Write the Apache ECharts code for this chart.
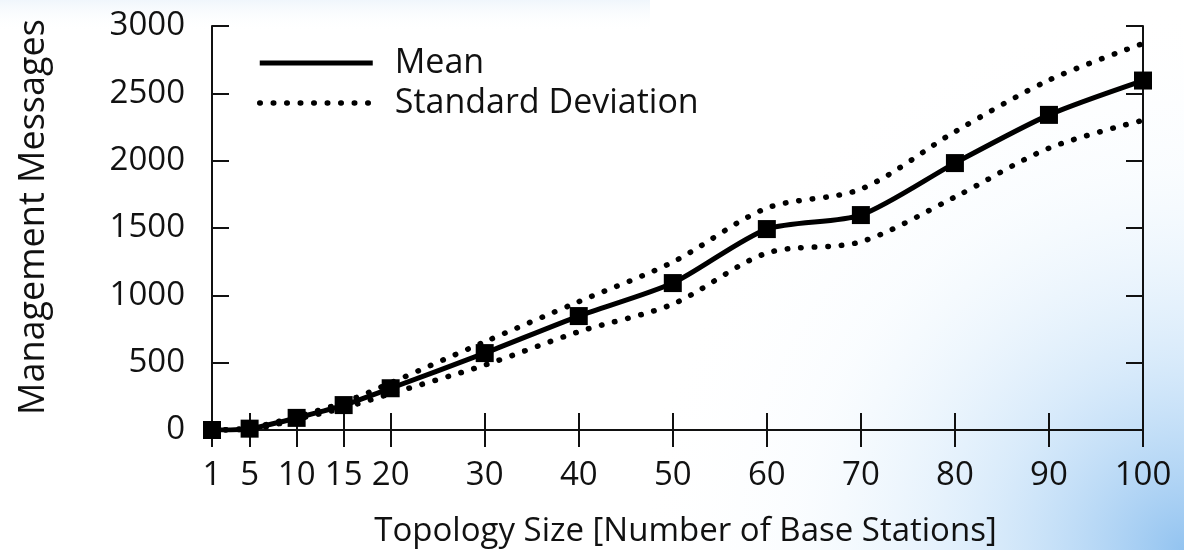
<!DOCTYPE html>
<html>
<head>
<meta charset="utf-8">
<script src="https://cdn.jsdelivr.net/npm/echarts@6/dist/echarts.min.js"></script>
<style>
html,body{margin:0;padding:0;background:#fff;}
#chart{width:1184px;height:550px;}
</style>
</head>
<body>
<div id="chart"></div>
<script>
// Data
var topologySizes = [1, 5, 10, 15, 20, 30, 40, 50, 60, 70, 80, 90, 100];
var meanMessages  = [0, 10, 90, 185, 310, 571, 846, 1091, 1492, 1596, 1982, 2340, 2595];
var upperStdDev   = [0, 15, 100, 205, 350, 655, 953, 1247, 1648, 1789, 2215, 2598, 2870];
var lowerStdDev   = [0, 5, 80, 165, 270, 482, 730, 935, 1314, 1398, 1730, 2093, 2300];
var xTickValues   = [1, 5, 10, 15, 20, 30, 40, 50, 60, 70, 80, 90, 100];
var seriesNames   = ['Mean', 'Standard Deviation'];
var xAxisTitle    = 'Topology Size [Number of Base Stations]';
var yAxisTitle    = 'Management Messages';

function pairs(xs, ys) { return xs.map(function (x, i) { return [x, ys[i]]; }); }

var FONT = 'Open Sans';
var chart = echarts.init(document.getElementById('chart'), null, {renderer: 'canvas'});

var axisLine = {show: true, lineStyle: {color: '#111', width: 2}};
var tickStyle = {color: '#111', width: 2};
var dotted = {color: '#000', width: 5.5, type: [0.5, 13], cap: 'round'};
var solid = {color: '#000', width: 5, type: 'solid'};

chart.setOption({
  backgroundColor: '#ffffff',
  animation: false,
  textStyle: {fontFamily: FONT},
  graphic: [
    {type: 'rect', z: -100, silent: true, shape: {x: 0, y: 0, width: 1184, height: 550},
     style: {fill: {type: 'radial', x: 1, y: 1, r: 1.0, colorStops: [
       {offset: 0, color: 'rgba(110,175,235,0.75)'},
       {offset: 0.35, color: 'rgba(170,210,245,0.45)'},
       {offset: 0.7, color: 'rgba(220,238,252,0.15)'},
       {offset: 1, color: 'rgba(255,255,255,0)'}]}}},
    {type: 'rect', z: -100, silent: true, shape: {x: 0, y: 0, width: 650, height: 32},
     style: {fill: {type: 'linear', x: 0, y: 0, x2: 0, y2: 1, colorStops: [
       {offset: 0, color: 'rgba(205,225,245,0.30)'},
       {offset: 1, color: 'rgba(255,255,255,0)'}]}}}
  ],
  grid: {left: 212, right: 41, top: 26, bottom: 120, containLabel: false, outerBoundsMode: 'none'},
  legend: {
    orient: 'vertical', left: 257, top: 46, padding: 0,
    itemWidth: 113, itemHeight: 20, itemGap: 6,
    itemStyle: {color: 'rgba(0,0,0,0)', borderColor: 'rgba(0,0,0,0)', borderWidth: 0},
    textStyle: {fontSize: 34, color: '#111', fontFamily: FONT, padding: [0, 0, 0, 17]},
    data: [
      {name: seriesNames[0], lineStyle: solid},
      {name: seriesNames[1], lineStyle: dotted}
    ]
  },
  xAxis: [
    {type: 'value', position: 'bottom', min: 1, max: 100,
     axisLine: axisLine,
     axisTick: {show: true, inside: true, length: 17, customValues: xTickValues, lineStyle: tickStyle},
     axisLabel: {show: true, customValues: xTickValues, fontSize: 33, margin: 29, color: '#111', fontFamily: FONT},
     splitLine: {show: false},
     name: xAxisTitle, nameLocation: 'middle', nameGap: 85,
     nameTextStyle: {fontSize: 33, color: '#111', fontFamily: FONT, padding: [0, 0, 0, 16]}},
    {type: 'value', position: 'top', min: 1, max: 100,
     axisLine: axisLine,
     axisTick: {show: true, inside: true, length: 17, customValues: xTickValues, lineStyle: tickStyle},
     axisLabel: {show: false, customValues: xTickValues},
     splitLine: {show: false}}
  ],
  yAxis: [
    {type: 'value', position: 'left', min: 0, max: 3000, interval: 500,
     axisLine: axisLine,
     axisTick: {show: true, inside: true, length: 17, lineStyle: tickStyle},
     axisLabel: {show: true, fontSize: 33, margin: 27, color: '#111', fontFamily: FONT,
                 padding: [6, 0, 0, 0],
                 formatter: function (v) { return String(v); }},
     splitLine: {show: false},
     name: yAxisTitle, nameLocation: 'middle', nameGap: 160,
     nameTextStyle: {fontSize: 36, color: '#111', fontFamily: FONT, padding: [0, 0, 0, 22]}},
    {type: 'value', position: 'right', min: 0, max: 3000, interval: 500,
     axisLine: axisLine,
     axisTick: {show: true, inside: true, length: 17, lineStyle: tickStyle},
     axisLabel: {show: false},
     splitLine: {show: false}}
  ],
  series: [
    {name: seriesNames[1], type: 'line', xAxisIndex: 0, yAxisIndex: 0,
     data: pairs(topologySizes, upperStdDev), smooth: 0.3, symbol: 'none',
     lineStyle: dotted, z: 2},
    {name: seriesNames[1], type: 'line', xAxisIndex: 0, yAxisIndex: 0,
     data: pairs(topologySizes, lowerStdDev), smooth: 0.3, symbol: 'none',
     lineStyle: dotted, z: 2},
    {name: seriesNames[0], type: 'line', xAxisIndex: 0, yAxisIndex: 0,
     data: pairs(topologySizes, meanMessages), smooth: 0.25,
     symbol: 'rect', symbolSize: 18,
     itemStyle: {color: '#000'},
     lineStyle: solid, z: 3}
  ]
});
</script>
</body>
</html>
